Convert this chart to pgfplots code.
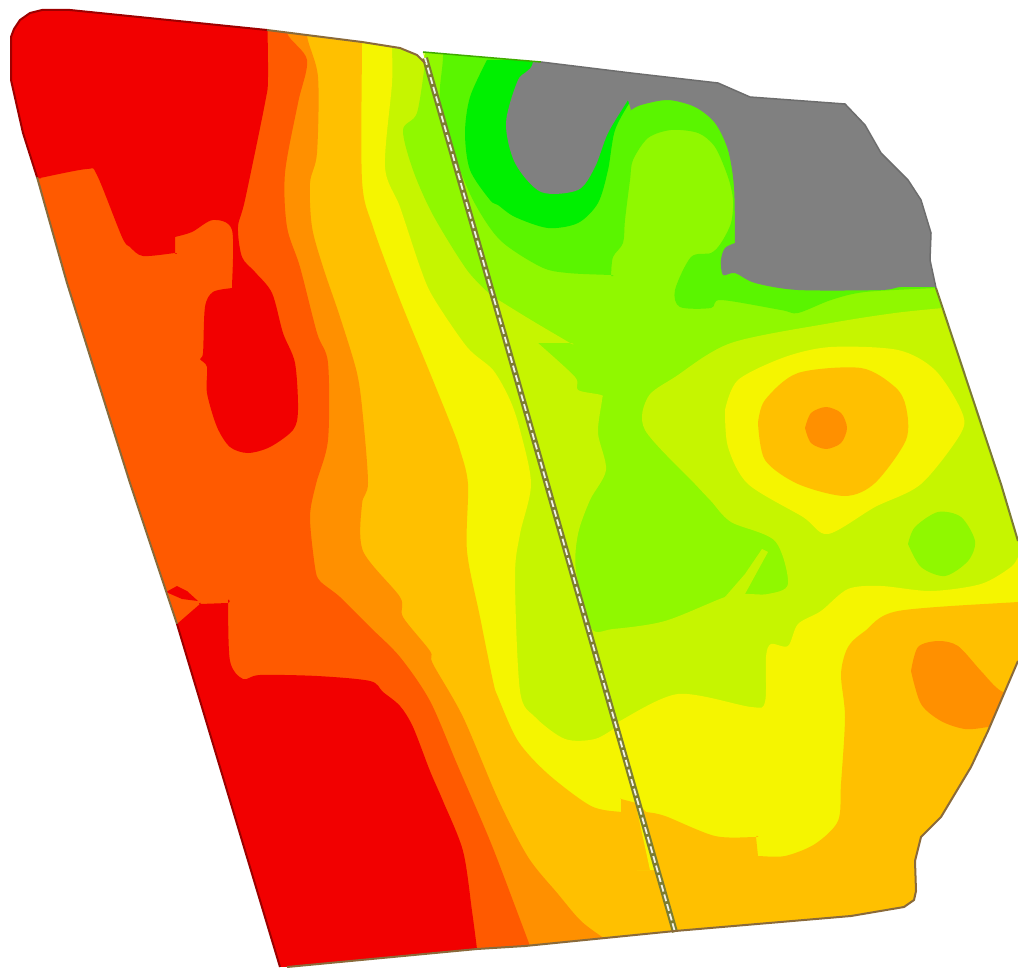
\documentclass[border=0pt]{standalone}
\usepackage{pgfplots}
\pgfplotsset{compat=1.18}
\definecolor{zred}{HTML}{F20000}
\definecolor{zorred}{HTML}{FF5A00}
\definecolor{zorange}{HTML}{FF9000}
\definecolor{zamber}{HTML}{FFC000}
\definecolor{zyellow}{HTML}{F5F500}
\definecolor{zyg}{HTML}{C6F500}
\definecolor{zgy}{HTML}{90F800}
\definecolor{zlime}{HTML}{5AF500}
\definecolor{zgreen}{HTML}{00F000}
\definecolor{zgray}{HTML}{808080}
\definecolor{zedge}{HTML}{8A6A3A}
\definecolor{zstrip}{HTML}{7C7C30}
\pgfplotsset{zf/.style={smooth, tension=0.5}}
\begin{document}
\begin{tikzpicture}
\begin{axis}[
    width=1018pt, height=968pt, scale only axis,
    hide axis, no markers,
    xmin=0, xmax=1018, ymin=0, ymax=968,
    y dir=reverse,
    every axis plot/.append style={draw=none, forget plot},
]
% left field bands, each closed outside the field (the mask below trims them)
\addplot[fill=zyg] coordinates {(0,0)(420,0)(425,58)(675,932)(675,968)(0,968)};
\addplot[fill=zgy, zf] coordinates {(425,63)(417,113)(403,130)(413,170)(433,215)(467,270)(492,296)};
\addplot[fill=zyellow, zf] coordinates {(392,0)(392,0)(392,46)(392,83)(385,167)(400,207)(420,267)(433,297)(467,347)(493,370)(510,400)(520,430)(531,484)(520,534)(515,577)(520,691)(535,717)(565,739)(595,739)(618,726)(618,726)(675,932)(675,932)(675,968)(675,968)(0,968)(0,968)(0,0)(0,0)};
\addplot[fill=zamber, zf] coordinates {(362,0)(362,0)(362,42)(362,180)(373,227)(400,300)(430,373)(453,430)(460,450)(468,484)(467,551)(480,617)(493,681)(498,697)(518,741)(548,774)(591,806)(621,812)(621,812)(621,799)(621,799)(640,804)(640,804)(675,932)(675,932)(675,968)(675,968)(0,968)(0,968)(0,0)(0,0)};
\addplot[fill=zorange, zf] coordinates {(307,0)(307,0)(307,36)(318,77)(317,153)(310,183)(312,227)(323,267)(340,317)(357,373)(363,417)(368,483)(362,504)(363,551)(400,597)(403,617)(430,651)(433,664)(463,717)(498,799)(528,857)(558,894)(581,921)(605,939)(605,939)(605,968)(605,968)(0,968)(0,968)(0,0)(0,0)};
\addplot[fill=zorred, zf] coordinates {(287,0)(287,0)(287,33)(307,60)(298,103)(285,173)(287,227)(300,267)(317,333)(328,363)(328,440)(316,484)(310,517)(315,567)(320,581)(340,597)(370,627)(400,657)(430,701)(457,764)(483,824)(498,861)(530,946)(530,946)(530,968)(530,968)(0,968)(0,968)(0,0)(0,0)};
\addplot[fill=zred, zf] coordinates {(267,0)(267,0)(268,77)(265,103)(245,200)(238,227)(242,257)(255,272)(272,293)(283,333)(295,363)(298,410)(293,430)(270,447)(248,453)(230,447)(217,427)(207,393)(207,367)(200,359)(203,353)(205,307)(213,292)(232,288)(232,288)(232,230)(213,220)(192,232)(175,237)(175,237)(175,253)(175,253)(143,256)(130,247)(122,237)(97,175)(87,169)(40,178)(40,178)(0,178)(0,178)(0,0)(0,0)};
\addplot[fill=zred, zf] coordinates {(177,624)(177,624)(200,604)(200,604)(228,603)(228,603)(230,661)(243,679)(260,675)(317,676)(370,681)(383,692)(400,706)(413,727)(430,771)(443,801)(463,851)(472,911)(477,949)(477,949)(477,968)(477,968)(100,968)(100,968)(100,624)(100,624)};
\addplot[fill=zred] coordinates {(166,592)(177,586)(187,591)(198,601)(182,599)};

% right field
\addplot[fill=zgy] coordinates {(425,58)(423,0)(1018,0)(1018,968)(675,968)(675,932)};
\addplot[fill=zyg, zf] coordinates {(492,296)(492,296)(531,320)(570,343)(570,343)(538,343)(538,343)(575,377)(578,390)(601,395)(602,400)(598,433)(606,470)(590,500)(578,534)(576,571)(591,628)(613,629)(665,621)(725,597)(745,594)(768,594)(788,584)(775,541)(731,522)(711,501)(695,484)(645,430)(648,397)(675,377)(731,343)(831,323)(895,313)(943,308)(943,308)(1018,308)(1018,308)(1018,968)(1018,968)(675,968)(675,968)(675,932)(675,932)};
\addplot[fill=zyg] coordinates {(762,549)(768,552)(757,572)(745,594)(725,597)(745,574)};
\addplot[fill=zgy, zf] coordinates {(908,544)(915,527)(938,512)(961,517)(975,541)(968,561)(945,576)(921,567)(908,544)};
\addplot[fill=zlime, zf] coordinates {(443,0)(443,0)(443,57)(440,100)(453,150)(473,200)(500,240)(541,267)(568,273)(611,275)(611,275)(613,257)(623,243)(625,220)(630,180)(633,160)(648,138)(671,130)(698,133)(715,147)(728,177)(733,200)(731,223)(721,243)(711,253)(691,257)(675,290)(680,307)(711,308)(721,300)(781,310)(798,313)(831,300)(865,292)(936,288)(936,288)(1018,288)(1018,288)(1018,0)(1018,0)};
\addplot[fill=zgreen, zf] coordinates {(487,60)(470,97)(465,133)(470,170)(490,200)(498,205)(515,217)(548,228)(578,223)(598,203)(608,170)(615,130)(631,100)(631,100)(640,60)(640,60)(487,60)};
\addplot[fill=zgray, zf] coordinates {(533,0)(533,0)(533,62)(518,80)(506,123)(515,163)(541,192)(578,190)(595,167)(608,133)(628,100)(628,100)(631,110)(631,110)(641,105)(668,100)(695,107)(715,123)(728,150)(734,187)(735,243)(735,243)(725,248)(721,260)(723,275)(735,273)(755,283)(798,290)(881,290)(901,287)(937,287)(937,287)(1018,287)(1018,287)(1018,0)(1018,0)};
% hot spot
\addplot[fill=zyellow, zf] coordinates {(725,410)(738,380)(785,357)(831,347)(898,350)(935,370)(961,410)(961,433)(921,484)(875,507)(828,534)(803,517)(748,484)(728,447)(725,410)};
\addplot[fill=zamber, zf] coordinates {(758,423)(765,400)(798,373)(861,368)(895,387)(906,407)(906,440)(875,483)(845,496)(798,484)(765,460)(758,423)};
\addplot[fill=zorange, zf] coordinates {(805,428)(811,413)(826,407)(841,413)(847,428)(841,443)(826,449)(811,443)(805,428)};
% south part
\addplot[fill=zyellow, zf] coordinates {(618,722)(618,722)(678,694)(751,707)(765,702)(766,657)(771,644)(788,646)(798,624)(821,611)(848,589)(881,586)(931,591)(981,584)(1011,567)(1018,557)(1018,557)(1018,625)(1018,625)(885,645)(885,645)(860,870)(860,870)(650,870)(650,870)};
\addplot[fill=zamber, zf] coordinates {(1018,602)(1018,602)(898,611)(865,631)(848,647)(841,674)(845,717)(841,784)(838,821)(815,844)(785,856)(758,856)(758,856)(756,837)(756,837)(715,836)(665,816)(646,812)(646,812)(642,808)(642,808)(676,932)(676,932)(676,968)(676,968)(1018,968)(1018,968)};
\addplot[fill=zorange, zf] coordinates {(911,671)(918,647)(938,641)(958,646)(981,671)(1001,691)(1030,700)(1030,720)(988,727)(965,729)(941,721)(921,704)(911,671)};

% white mask outside the two fields
\addplot[fill=white] coordinates {(0,0)(1018,0)(1018,541)(1001,484)(936,288)(930,260)(931,233)(921,200)(908,180)(881,153)(865,125)(845,104)(750,97)(718,83)(631,73)(541,62)(423,52)(425,62)(417,55)(400,48)(362,42)(267,30)(70,10)(42,10)(30,13)(20,20)(14,29)(11,37)(11,80)(23,133)(37,177)(67,283)(130,483)(167,594)(177,624)(280,967)(287,967)(477,949)(525,946)(675,931)(851,916)(904,907)(914,900)(916,891)(915,861)(921,837)(941,817)(971,767)(988,731)(1018,661)(1018,968)(0,968)};

% outlines and the strip
\addplot[draw=zstrip, line width=6pt] coordinates {(425,58)(675,932)};
\addplot[draw=white!90!zstrip, line width=1.8pt, dash pattern=on 7pt off 3pt] coordinates {(425,58)(675,932)};
\addplot[draw=zedge, line width=2pt] coordinates {(37,177)(67,283)(130,483)(167,594)(177,624)};
\addplot[draw=zred!65!black, line width=2pt] coordinates {(37,177)(23,133)(11,80)(11,37)(14,29)(20,20)(30,13)(42,10)(70,10)(267,30)};
\addplot[draw=zred!65!black, line width=2pt] coordinates {(177,624)(280,967)};
\addplot[draw=zedge, line width=2pt] coordinates {(267,30)(362,42)(400,48)(417,55)(425,63)};
\addplot[draw=zedge, line width=2pt] coordinates {(287,967)(477,949)(525,946)(675,931)(851,916)(904,907)(914,900)(916,891)(915,861)(921,837)(941,817)(971,767)(988,731)(1018,661)};
\addplot[draw=zstrip, line width=2pt] coordinates {(936,288)(1001,484)(1018,541)};
\addplot[draw=zlime!70!black, line width=1.5pt] coordinates {(423,52)(541,62)};
\addplot[draw=zgray!85!black, line width=1.5pt] coordinates {(541,62)(631,73)(718,83)(750,97)(845,104)(865,125)(881,153)(908,180)(921,200)(931,233)(930,260)(936,288)};
\end{axis}
\end{tikzpicture}
\end{document}
